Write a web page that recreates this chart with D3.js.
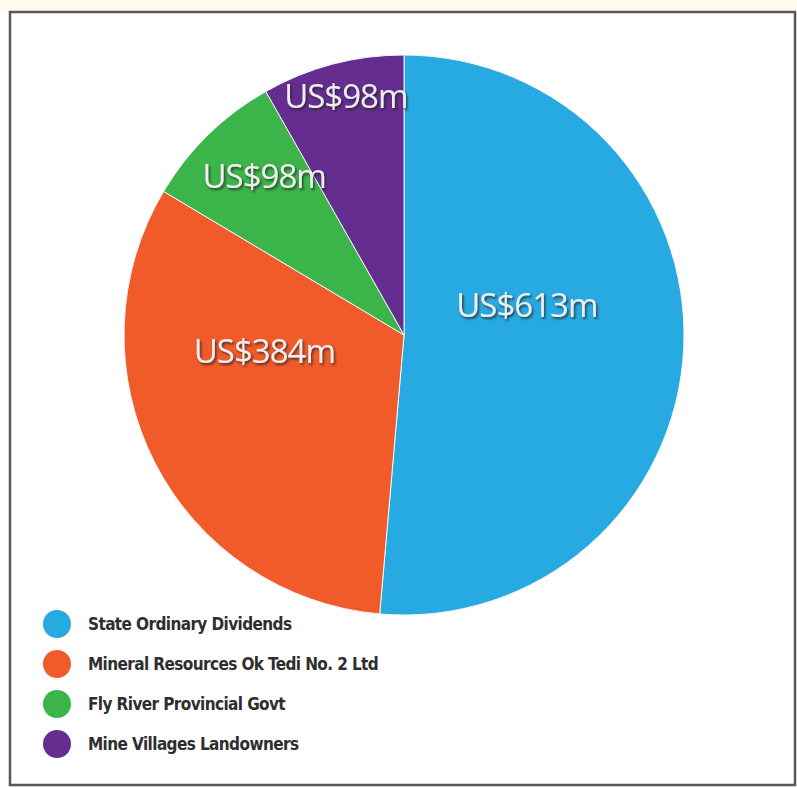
<!DOCTYPE html>
<html>
<head>
<meta charset="utf-8">
<script src="https://cdn.jsdelivr.net/npm/d3@7"></script>
<style>
  body { margin: 0; background: #fff; }
  svg { display: block; }
</style>
</head>
<body>
<div id="chart"></div>
<script>
// data
const categories = ['State Ordinary Dividends', 'Mineral Resources Ok Tedi No. 2 Ltd', 'Fly River Provincial Govt', 'Mine Villages Landowners'];
const values = [613, 384, 98, 98];
const valueLabels = ['US$613m', 'US$384m', 'US$98m', 'US$98m'];
const colors = ['#27aae1', '#f15a29', '#3bb54a', '#652d90'];

const draw = () => {
    const dimensions = {
        width: 797,
        height: 788,
        cx: 404,
        cy: 335,
        radius: 280,
    }

    const svg = d3.select('#chart')
        .append('svg')
        .attr('width', dimensions.width)
        .attr('height', dimensions.height);

    // drop shadow for the value labels
    const filter = svg.append('defs').append('filter')
        .attr('id', 'shadow')
        .attr('x', '-20%').attr('y', '-30%')
        .attr('width', '140%').attr('height', '160%');
    filter.append('feDropShadow')
        .attr('dx', 1.5)
        .attr('dy', 2)
        .attr('stdDeviation', 1)
        .attr('flood-color', '#222')
        .attr('flood-opacity', 0.75);

    // faint yellow strip above the frame
    svg.append('rect')
        .attr('x', 0).attr('y', 0)
        .attr('width', dimensions.width).attr('height', 10)
        .attr('fill', '#fdfbe9');

    // frame
    svg.append('rect')
        .attr('x', 10).attr('y', 12)
        .attr('width', 785).attr('height', 773)
        .attr('fill', '#fff')
        .attr('stroke', '#5a5656')
        .attr('stroke-width', 2.5);

    const pie = d3.pie()
        .value(d => d)
        .sort(null);

    const arcs = pie(values);

    const arc = d3.arc()
        .innerRadius(0)
        .outerRadius(dimensions.radius);

    const container = svg.append('g')
        .attr('transform', `translate(${dimensions.cx}, ${dimensions.cy})`);

    container.selectAll('path')
        .data(arcs)
        .join('path')
        .attr('d', arc)
        .attr('fill', (d, i) => colors[i])
        .attr('stroke', '#f4f4f4')
        .attr('stroke-width', 1);

    // label placement: radius fraction + small nudge per slice
    const labelRadius = [0.45, 0.56, 0.76, 0.87];
    const labelNudge = [[-3, -35], [0, -55], [9, -7], [4, -3]];

    container.selectAll('text.value')
        .data(arcs)
        .join('text')
        .classed('value', true)
        .attr('transform', (d, i) => {
            const r = dimensions.radius * labelRadius[i];
            const [x, y] = d3.arc().innerRadius(r).outerRadius(r).centroid(d);
            return `translate(${x + labelNudge[i][0]}, ${y + labelNudge[i][1]})`;
        })
        .attr('text-anchor', 'middle')
        .attr('dy', '0.36em')
        .attr('fill', '#eeeeee')
        .attr('filter', 'url(#shadow)')
        .style('font-family', '"Open Sans", "Noto Sans", sans-serif')
        .style('font-size', '33px')
        .style('letter-spacing', '-1px')
        .text((d, i) => valueLabels[i]);

    // legend
    const legend = svg.append('g')
        .attr('transform', 'translate(57, 624)');

    const rows = legend.selectAll('g')
        .data(categories)
        .join('g')
        .attr('transform', (d, i) => `translate(0, ${i * 40})`);

    rows.append('circle')
        .attr('r', 14)
        .attr('fill', (d, i) => colors[i]);

    rows.append('text')
        .attr('x', 31)
        .attr('dy', '0.36em')
        .attr('fill', '#2e2e2e')
        .style('font-family', '"Liberation Sans Narrow", "DejaVu Sans Condensed", sans-serif')
        .style('font-weight', 'bold')
        .style('font-size', '17px')
        .style('letter-spacing', '-0.6px')
        .text(d => d);
}

draw();
</script>
</body>
</html>
